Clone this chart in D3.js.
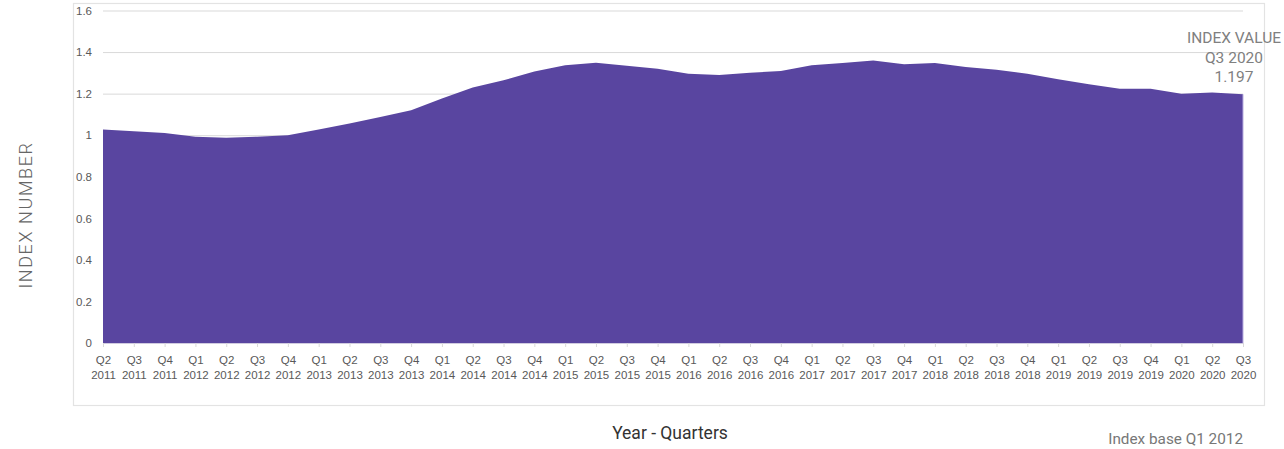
<!DOCTYPE html>
<html>
<head>
<meta charset="utf-8">
<script src="https://cdn.jsdelivr.net/npm/d3@7"></script>
<style>
  body { margin: 0; background: #fff; }
  svg { display: block; }
</style>
</head>
<body>
<div id="chart"></div>
<script>
const width = 1284, height = 449;

// quarter labels and index values
const quarters = ["Q2","Q3","Q4",
  "Q1","Q2","Q3","Q4", "Q1","Q2","Q3","Q4", "Q1","Q2","Q3","Q4",
  "Q1","Q2","Q3","Q4", "Q1","Q2","Q3","Q4", "Q1","Q2","Q3","Q4",
  "Q1","Q2","Q3","Q4", "Q1","Q2","Q3","Q4",
  "Q1","Q2","Q3"];
const years = ["2011","2011","2011",
  "2012","2012","2012","2012", "2013","2013","2013","2013", "2014","2014","2014","2014",
  "2015","2015","2015","2015", "2016","2016","2016","2016", "2017","2017","2017","2017",
  "2018","2018","2018","2018", "2019","2019","2019","2019",
  "2020","2020","2020"];
const indexValues = [1.027, 1.019, 1.011,
  0.993, 0.988, 0.993, 1.000,
  1.027, 1.056, 1.088, 1.120,
  1.176, 1.230, 1.264, 1.307,
  1.336, 1.349, 1.334, 1.320,
  1.296, 1.290, 1.301, 1.309,
  1.336, 1.347, 1.360, 1.341,
  1.347, 1.328, 1.315, 1.296,
  1.269, 1.245, 1.224, 1.224,
  1.200, 1.205, 1.197];
const yTicks = [0, 0.2, 0.4, 0.6, 0.8, 1, 1.2, 1.4, 1.6];

const data = quarters.map((q, i) => ({ key: q + " " + years[i], q: q, year: years[i], value: indexValues[i] }));

const svg = d3.select("#chart").append("svg")
    .attr("width", width)
    .attr("height", height);

// chart frame
svg.append("rect")
    .attr("x", 73.5).attr("y", 3.5)
    .attr("width", 1191).attr("height", 402)
    .attr("fill", "none")
    .attr("stroke", "#e3e3e3")
    .attr("stroke-width", 1.2);

const x = d3.scalePoint()
    .domain(data.map(d => d.key))
    .range([103, 1243]);

const y = d3.scaleLinear()
    .domain([0, 1.6])
    .range([343, 10.5]);

// gridlines + y labels
const yAxis = d3.axisLeft(y)
    .tickValues(yTicks)
    .tickFormat(d => d3.format("")(+d.toFixed(1)))
    .tickSize(-(1243 - 103))
    .tickPadding(11);

const gy = svg.append("g")
    .attr("transform", "translate(103,0)")
    .call(yAxis);
gy.select(".domain").remove();
gy.selectAll(".tick line")
    .attr("stroke", "#d9d9d9")
    .attr("stroke-width", 1);
gy.selectAll(".tick text")
    .attr("fill", "#595959")
    .style("font-family", "'Liberation Sans', Arial, sans-serif")
    .style("font-size", "11.5px");

// area
const area = d3.area()
    .x(d => x(d.key))
    .y0(y(0))
    .y1(d => y(d.value));

svg.append("path")
    .datum(data)
    .attr("d", area)
    .attr("fill", "#5945a0");

// right edge highlight
svg.append("line")
    .attr("x1", x(data[data.length - 1].key)).attr("x2", x(data[data.length - 1].key))
    .attr("y1", y(data[data.length - 1].value)).attr("y2", y(0))
    .attr("stroke", "#b9aee0")
    .attr("stroke-width", 1);

// x axis
const xAxis = d3.axisBottom(x)
    .tickSize(4)
    .tickFormat("");

const gx = svg.append("g")
    .attr("transform", `translate(0,${y(0)})`)
    .call(xAxis);
gx.select(".domain")
    .attr("stroke", "#d0cbe0")
    .attr("d", `M${x.range()[0]},0.5H${x.range()[1]}`);
gx.selectAll(".tick line").attr("stroke", "#d9d9d9");

const labels = gx.selectAll(".tick")
    .data(data)
    .append("text")
    .attr("fill", "#595959")
    .attr("text-anchor", "middle")
    .style("font-family", "'Liberation Sans', Arial, sans-serif")
    .style("font-size", "11.5px");
labels.append("tspan").attr("x", 0).attr("y", 21).text(d => d.q);
labels.append("tspan").attr("x", 0).attr("y", 35.5).text(d => d.year);

// axis titles
svg.append("text")
    .attr("x", 670).attr("y", 439)
    .attr("text-anchor", "middle")
    .attr("fill", "#333")
    .style("font-family", "Roboto, sans-serif")
    .style("font-size", "17.5px")
    .text("Year - Quarters");

svg.append("text")
    .attr("transform", "translate(32,215) rotate(-90)")
    .attr("text-anchor", "middle")
    .attr("fill", "#666")
    .style("font-family", "Roboto, sans-serif")
    .style("font-weight", 300)
    .style("font-size", "18px")
    .style("letter-spacing", "1.6px")
    .text("INDEX NUMBER");

svg.append("text")
    .attr("x", 1243).attr("y", 444)
    .attr("text-anchor", "end")
    .attr("fill", "#777")
    .style("font-family", "Roboto, sans-serif")
    .style("font-size", "15.3px")
    .text("Index base Q1 2012");

// last value annotation
const last = data[data.length - 1];
const note = svg.append("text")
    .attr("text-anchor", "middle")
    .attr("fill", "#808080")
    .style("font-family", "Roboto, sans-serif")
    .style("font-size", "15.5px");
note.append("tspan").attr("x", 1234).attr("y", 43).text("INDEX VALUE");
note.append("tspan").attr("x", 1234).attr("y", 63).text(last.key);
note.append("tspan").attr("x", 1234).attr("y", 82).text(last.value.toFixed(3));
</script>
</body>
</html>
